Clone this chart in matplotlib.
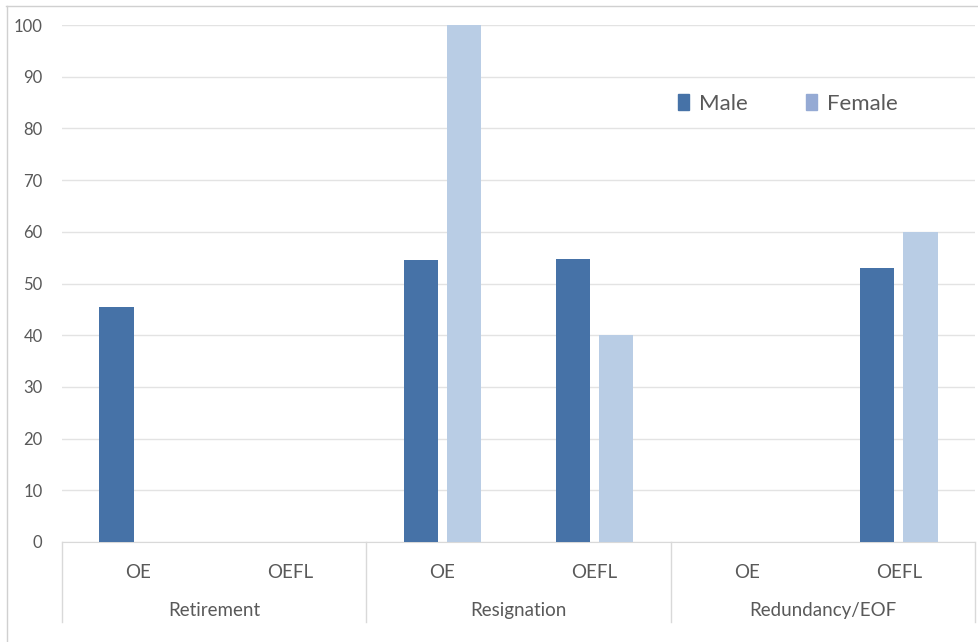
import matplotlib
matplotlib.use("Agg")
import matplotlib.pyplot as plt
from matplotlib.patches import Patch
from matplotlib.lines import Line2D
import numpy as np

groups = ["Retirement", "Resignation", "Redundancy/EOF"]
subgroups = ["OE", "OEFL", "OE", "OEFL", "OE", "OEFL"]
male = [45.5, 0, 54.5, 54.7, 0, 53.0]
female = [0, 0, 100, 40, 0, 60]
yticks = list(range(0, 101, 10))

male_color = "#4672a7"
female_color = "#b9cde5"
female_legend_color = "#95aad4"
grid_color = "#e3e3e3"
text_color = "#595959"

plt.rcParams['font.family'] = ['Lato', 'DejaVu Sans']

fig = plt.figure(figsize=(9.79, 6.42), dpi=100)
ax = fig.add_axes([62/979, 1-542/642, (975-62)/979, (542-25)/642])

x = np.arange(len(subgroups))
w = 0.224
off = 0.142
ax.bar(x - off, male, width=w, color=male_color, zorder=3)
ax.bar(x + off, female, width=w, color=female_color, zorder=3)

ax.set_xlim(-0.5, len(subgroups) - 0.5)
ax.set_ylim(0, 100)
ax.set_yticks(yticks)
ax.set_yticklabels([str(t) for t in yticks], fontsize=12, color=text_color)
ax.yaxis.grid(True, color=grid_color, linewidth=1)
ax.set_axisbelow(True)
for s in ["top", "right", "left"]:
    ax.spines[s].set_visible(False)
ax.spines["bottom"].set_color("#d9d9d9")
ax.tick_params(axis="y", length=0, pad=14)
ax.set_xticks(x)
ax.set_xticklabels(subgroups, fontsize=13.5, color=text_color)
ax.tick_params(axis="x", length=0, pad=16)

trans = ax.get_xaxis_transform()
for i, g in enumerate(groups):
    ax.text(2 * i + 0.5, -0.132, g, transform=trans, ha="center", va="center",
            fontsize=13.5, color=text_color)
for xs in [-0.5, 1.5, 3.5, 5.5]:
    ax.add_line(Line2D([xs, xs], [0, -80/517], transform=trans, color="#d9d9d9",
                       linewidth=1, clip_on=False))

handles = [Patch(color=male_color), Patch(color=female_legend_color)]
ax.legend(handles, ["Male", "Female"], loc="center", bbox_to_anchor=((788-62)/913, (542-104)/517),
          ncol=2, frameon=False, fontsize=16, handlelength=0.5, handleheight=0.7,
          handletextpad=0.45, columnspacing=2.6, labelcolor=text_color)

fig.add_artist(Line2D([6/979, 1], [1-6/642, 1-6/642], transform=fig.transFigure, color="#d0d0d0", linewidth=1))
fig.add_artist(Line2D([7/979, 7/979], [0, 1-6/642], transform=fig.transFigure, color="#d0d0d0", linewidth=1))

fig.savefig("out.png", dpi=100)
